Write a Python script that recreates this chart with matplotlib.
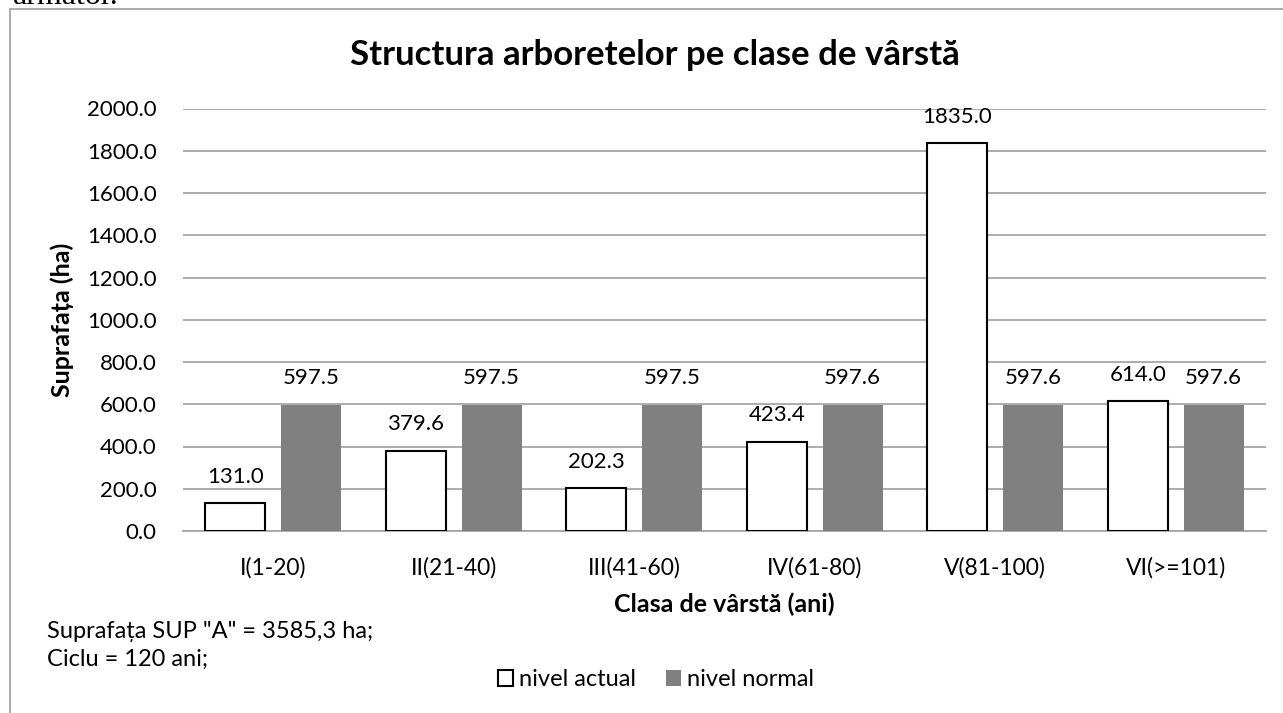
import matplotlib.pyplot as plt
from matplotlib.patches import Rectangle

categories = ["I(1-20)", "II(21-40)", "III(41-60)", "IV(61-80)", "V(81-100)", "VI(>=101)"]
nivel_actual = [131.0, 379.6, 202.3, 423.4, 1835.0, 614.0]
nivel_normal = [597.5, 597.5, 597.5, 597.6, 597.6, 597.6]
yticks = [0, 200, 400, 600, 800, 1000, 1200, 1400, 1600, 1800, 2000]

W, H = 1283, 713
plt.rcParams['font.family'] = ["Lato", 'DejaVu Sans']

NUM = 16     # numbers
TXT = 17     # plain text
BOLD = 18    # axis titles


def fx(px):
    return px / W


def fy(py):
    return 1 - py / H


def main():
    fig = plt.figure(figsize=(W / 100, H / 100), dpi=100)

    # line of page text cut off above the chart
    fig.text(fx(13), fy(4), "armator.", family="Liberation Serif", fontsize=23,
             ha="left", va="baseline", color="black")

    # chart frame
    fig.patches.append(Rectangle((fx(10), fy(760)), fx(1300), fy(9) - fy(760),
                                 transform=fig.transFigure, fill=False,
                                 edgecolor="#a6a6a6", linewidth=1.3))

    ax = fig.add_axes([fx(183), fy(531), fx(1266) - fx(183), fy(108.5) - fy(531)])

    x = list(range(len(categories)))
    w = 0.332
    off = 0.21
    xa = [i - off for i in x]
    xn = [i + off for i in x]
    ax.bar(xa, nivel_actual, w, color="white", edgecolor="black", linewidth=1.5, zorder=3,
           label="nivel actual")
    ax.bar(xn, nivel_normal, w, color="#808080", edgecolor="none", zorder=3,
           label="nivel normal")

    for xs, vals in ((xa, nivel_actual), (xn, nivel_normal)):
        for xi, v in zip(xs, vals):
            ax.annotate(f"{v:.1f}", (xi, v), xytext=(0, 19), textcoords="offset points",
                        ha="center", va="center", fontsize=NUM)

    ax.set_xlim(-0.5, 5.5)
    ax.set_ylim(0, 2000)
    ax.set_yticks(yticks)
    ax.set_yticklabels([f"{t:.1f}" for t in yticks], fontsize=NUM)
    ax.set_xticks(x)
    ax.set_xticklabels(categories, fontsize=16.5)
    ax.tick_params(axis="y", length=0, pad=19)
    ax.tick_params(axis="x", length=0, pad=19)
    ax.grid(axis="y", color="#a6a6a6", linewidth=1.3, zorder=0)
    ax.set_axisbelow(True)
    for s in ["top", "right", "left"]:
        ax.spines[s].set_visible(False)
    ax.spines["bottom"].set_color("#a6a6a6")
    ax.spines["bottom"].set_linewidth(1.3)

    fig.text(fx(655), fy(55), "Structura arboretelor pe clase de vârstă",
             fontsize=25, fontweight="bold", ha="center", va="center")
    fig.text(fx(62), fy(320), "Suprafața (ha)", fontsize=BOLD, fontweight="bold",
             rotation=90, ha="center", va="center")
    fig.text(fx(724), fy(604), "Clasa de vârstă (ani)", fontsize=BOLD, fontweight="bold",
             ha="center", va="center")
    fig.text(fx(47), fy(632), 'Suprafața SUP "A" = 3585,3 ha;', fontsize=TXT,
             ha="left", va="center")
    fig.text(fx(47), fy(659), "Ciclu = 120 ani;", fontsize=TXT,
             ha="left", va="center")

    fig.legend(loc="center", bbox_to_anchor=(fx(656), fy(680)), ncol=2, frameon=False,
               fontsize=TXT, handlelength=0.64, handleheight=0.64, handletextpad=0.25,
               columnspacing=1.27)

    fig.savefig("out.png", dpi=100)


if __name__ == "__main__":
    main()
